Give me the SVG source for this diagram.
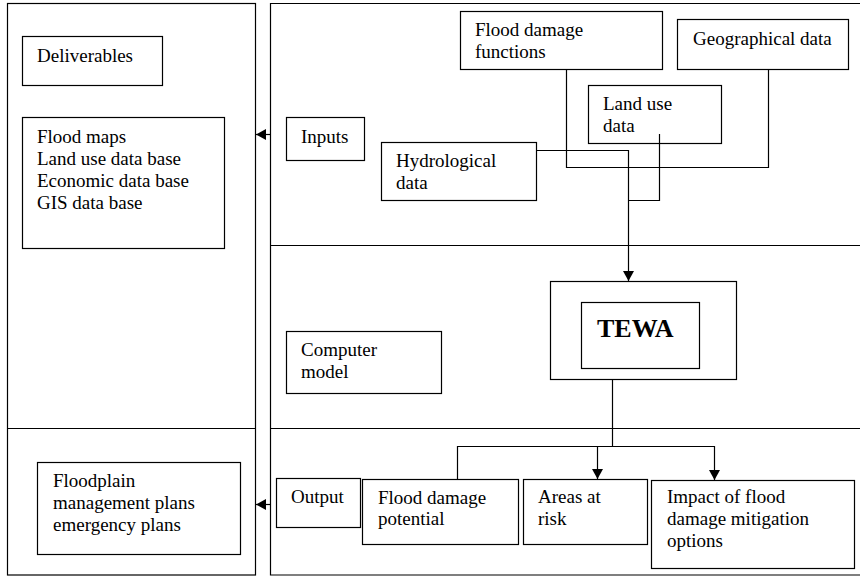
<svg xmlns="http://www.w3.org/2000/svg" width="860" height="577" viewBox="0 0 860 577">
<style>
.b{fill:#fff;stroke:#000;stroke-width:1.2}
.p{fill:none;stroke:#000;stroke-width:1.2}
.c{fill:none;stroke:#000;stroke-width:1.2}
text{font-family:"Liberation Serif","Times New Roman",serif;font-size:19px;fill:#000}
.t{font-weight:bold;font-size:26px}
</style>
<defs>
<marker id="ah" markerUnits="userSpaceOnUse" markerWidth="11" markerHeight="11" refX="10" refY="5.5" orient="auto">
<path d="M0,0 L10,5.5 L0,11 z" fill="#000"/>
</marker>
</defs>
<rect width="860" height="577" fill="#fff"/>
<g id="panels">
<rect class="p" x="7.5" y="3.5" width="248" height="571.5"/>
<line class="p" x1="7.5" y1="428.5" x2="255.5" y2="428.5"/>
<path class="p" d="M862 3.5 H270.5 V575 H862"/>
<line class="p" x1="270.5" y1="245.5" x2="862" y2="245.5"/>
<line class="p" x1="270.5" y1="428.5" x2="862" y2="428.5"/>
</g>
<g id="connectors">
<path class="c" d="M536.5 150.5 H628.5 V281" marker-end="url(#ah)"/>
<path class="c" d="M566.5 69.5 V167.5 H768.5 V69.5"/>
<path class="c" d="M659.5 134 V200.5 H628.5"/>
<path class="c" d="M612.5 379.5 V446.5"/>
<path class="c" d="M457.5 479.5 V446.5 H714.5 V480" marker-end="url(#ah)"/>
<path class="c" d="M597.5 446.5 V479" marker-end="url(#ah)"/>
<path class="c" d="M270.5 134.5 H256" marker-end="url(#ah)"/>
<path class="c" d="M270.5 504.5 H256" marker-end="url(#ah)"/>
</g>
<g id="deliverables"><rect class="b" x="22.5" y="36.5" width="140" height="49"/><text x="37" y="62">Deliverables</text></g>
<g id="delivlist"><rect class="b" x="22.5" y="117.5" width="202" height="131"/>
<text x="37" y="143">Flood maps</text><text x="37" y="165">Land use data base</text><text x="37" y="187">Economic data base</text><text x="37" y="209">GIS data base</text></g>
<g id="inputs"><rect class="b" x="286.5" y="117.5" width="78" height="43"/><text x="301" y="143">Inputs</text></g>
<g id="hydro"><rect class="b" x="381.5" y="142.5" width="155" height="58"/><text x="396" y="167">Hydrological</text><text x="396" y="189">data</text></g>
<g id="fdf"><rect class="b" x="460.5" y="11.5" width="202" height="58"/><text x="475" y="36">Flood damage</text><text x="475" y="58">functions</text></g>
<g id="geo"><rect class="b" x="677.5" y="19.5" width="171" height="50"/><text x="693" y="45">Geographical data</text></g>
<g id="landuse"><rect class="b" x="588.5" y="85.5" width="133" height="58"/><text x="603" y="110">Land use</text><text x="603" y="132">data</text></g>
<path class="c" d="M659.5 134 V143.5"/>
<g id="tewa"><rect class="b" x="550.5" y="281.5" width="186" height="98"/><rect class="b" x="581.5" y="302.5" width="118" height="66"/><text class="t" x="597" y="337">TEWA</text></g>
<g id="computer"><rect class="b" x="286.5" y="331.5" width="155" height="62"/><text x="301" y="356">Computer</text><text x="301" y="378">model</text></g>
<g id="floodplain"><rect class="b" x="37.5" y="462.5" width="203" height="92"/><text x="53" y="487">Floodplain</text><text x="53" y="509">management plans</text><text x="53" y="531">emergency plans</text></g>
<g id="output"><rect class="b" x="276.5" y="478.5" width="84" height="49"/><text x="291" y="503">Output</text></g>
<g id="fdp"><rect class="b" x="362.5" y="479.5" width="156" height="65"/><text x="378" y="504">Flood damage</text><text x="378" y="525">potential</text></g>
<g id="risk"><rect class="b" x="523.5" y="479.5" width="124" height="65"/><text x="538" y="503">Areas at</text><text x="538" y="525">risk</text></g>
<g id="impact"><rect class="b" x="651.5" y="480.5" width="203" height="88"/><text x="667" y="503">Impact of flood</text><text x="667" y="525">damage mitigation</text><text x="667" y="547">options</text></g>
</svg>
